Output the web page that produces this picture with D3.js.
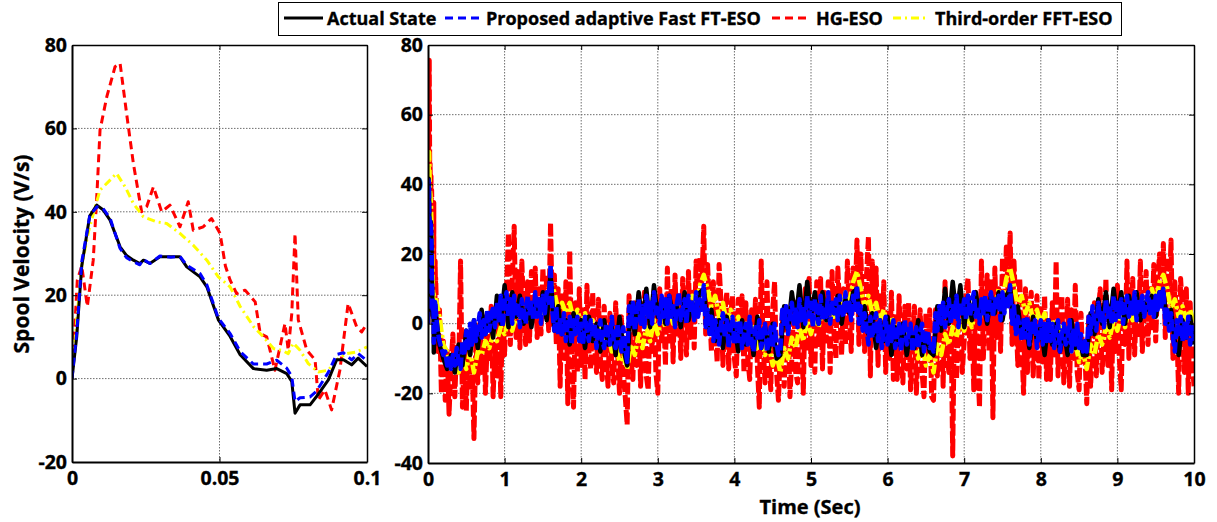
<!DOCTYPE html>
<html>
<head>
<meta charset="utf-8">
<script src="https://cdn.jsdelivr.net/npm/d3@7"></script>
<style>
  html, body { margin: 0; padding: 0; background: #fff; }
  svg { display: block; font-family: "Open Sans", Lato, sans-serif; font-weight: 700; }
  svg text { fill: #000; stroke: #000; stroke-width: 0.35px; }
</style>
</head>
<body>
<svg id="chart" width="1217" height="522"></svg>
<script>
// ---- Start-up transient, 0 to 0.1 s ----
const zoomTimeEst = [0, 0.0016, 0.0033, 0.006, 0.0084, 0.0105, 0.0129, 0.0163, 0.0185, 0.0208, 0.023, 0.0242, 0.0264, 0.0298, 0.0335, 0.0366, 0.0389, 0.0434, 0.0457, 0.0496, 0.0536, 0.057, 0.0615, 0.066, 0.0694, 0.0728, 0.0745, 0.0756, 0.0773, 0.0807, 0.0829, 0.0869, 0.0897, 0.092, 0.0948, 0.097, 0.1];
const zoomActual = [0, 10, 27, 39, 41.6, 40.5, 38, 31.6, 29.5, 28.4, 27.6, 28.4, 27.6, 29.2, 29.2, 29.2, 26.8, 24.4, 22, 14.1, 10.1, 5.7, 2.4, 2.0, 2.4, 1.2, -0.7, -8.3, -6.3, -6.3, -4.3, -0.3, 4.5, 4.5, 3.3, 4.9, 2.9];
const zoomProposed = [0, 11, 28, 39, 41.2, 40.8, 38.5, 31.2, 29, 28, 27.3, 28.6, 27.6, 29.4, 29.1, 29.3, 27.2, 25.2, 22.5, 14.5, 10.8, 6.5, 3.5, 3.5, 4.4, 2.5, 0.5, -5.5, -4.6, -4.4, -3, 1.5, 5.8, 6.2, 4.5, 6.0, 4.3];
const zoomTimeHG = [0, 0.0018, 0.0033, 0.0052, 0.0072, 0.0085, 0.0095, 0.0118, 0.0146, 0.0163, 0.0185, 0.0208, 0.0236, 0.0253, 0.0276, 0.0304, 0.0332, 0.0366, 0.0394, 0.0411, 0.0445, 0.0473, 0.0502, 0.052, 0.0536, 0.0558, 0.0587, 0.0621, 0.0638, 0.066, 0.0688, 0.0705, 0.0722, 0.0733, 0.0745, 0.0756, 0.0767, 0.0796, 0.0824, 0.0835, 0.0857, 0.088, 0.0908, 0.0936, 0.0965, 0.0982, 0.1];
const zoomHG = [0, 23.6, 27, 17.3, 28.4, 45, 59.6, 67.6, 74.8, 75.6, 63.6, 51.6, 40, 41.2, 46, 40, 41.6, 36.4, 42.4, 35.6, 36.4, 38.4, 34.8, 27, 23.6, 20.4, 21.2, 18.4, 10.8, 10, 2, 7.6, 13.2, 6.8, 15.6, 34.8, 14.1, 6.8, 4.5, -5.1, -2.7, -7.5, 2, 18, 12.4, 11.2, 13.2];
const zoomTimeThird = [0, 0.0016, 0.0033, 0.0055, 0.0078, 0.0095, 0.0129, 0.0151, 0.018, 0.0208, 0.0242, 0.0287, 0.0321, 0.0366, 0.0411, 0.0457, 0.0496, 0.0536, 0.057, 0.0615, 0.0649, 0.0683, 0.0711, 0.0733, 0.075, 0.0773, 0.0801, 0.0835, 0.0869, 0.0897, 0.0931, 0.0965, 0.1];
const zoomThird = [0, 14, 27, 35, 41, 45.2, 47.6, 49.2, 46, 42, 38.8, 37.6, 37.2, 34.8, 32, 28.4, 24.4, 22, 17.3, 12.5, 10, 7.2, 6.8, 6, 8.5, 6.8, 3.6, 1.6, 2, 4.5, 6, 6.4, 7.6];

// ---- Full 10 s run ----
// Actual state and third-order ESO: one sample every 0.05 s from 0.15 s to 10 s
const coarseStart = 0.15;
// Proposed ESO and HG-ESO: one sample every 0.025 s from 0.125 s to 10 s
const fineStart = 0.125;
const fullEnd = 10;

const fullActual = [
  -6, -10, -13, -9, -14, -6, -12, -2, -9, 1,
  -7, 4, -3, 3, -4, 8, 0, 11, -1, 9,
  2, 8, 0, 6, -1, 7, 3, 9, 1, 14,
  -2, 5, -3, 1, -6, 3, -2, 1, -7, 2,
  -5, 0, -8, 1, -6, -1, -9, 2, -7, -12,
  6, -3, 9, 0, 10, -1, 11, 2, 7, 0,
  8, 2, 5, -1, 9, 1, 6, 3, 9, 10,
  -1, 4, -5, 1, -7, 2, -3, 0, -8, 1,
  -6, 0, -9, 2, -7, -1, -8, 0, -10, -9,
  5, -2, 9, 1, 11, -1, 12, 2, 9, 0,
  9, 1, 6, 3, 8, 0, 7, 3, 9, 10,
  0, 5, -3, 3, -7, 1, -5, 2, -9, -1,
  -6, 0, -9, -2, -7, 1, -9, -3, -8, -9,
  5, -2, 10, 0, 12, 2, 11, -1, 8, 1,
  9, 2, 6, 0, 8, 3, 9, 1, 8, 10,
  0, 5, -4, 1, -7, 2, -5, -1, -9, 1,
  -6, 0, -8, -2, -9, 1, -7, -3, -9, -9,
  3, -3, 7, 0, 9, -1, 10, 2, 9, 0,
  8, 3, 9, 1, 6, 4, 8, 2, 9, 9,
  0, 4, -5, -9, 1, -4, 2, -6
];
const fullThird = [
  2, -6, -8, -13, -11, -14, -10, -13, -8, -14,
  -8, -9, -5, -7, -3, -5, -1, -3, 1, -2,
  2, 0, 4, 1, 5, 2, 6, 3, 8, 12,
  9, 4, 6, 3, 6, 1, 4, 0, 3, -1,
  1, -4, -1, -6, -3, -8, -6, -11, -9, -13,
  -6, -9, -3, -7, -1, -5, 1, -3, 2, -1,
  4, 0, 5, 1, 6, 3, 8, 5, 11, 14,
  10, 5, 8, 2, 6, 0, 4, -1, 2, -3,
  0, -5, -1, -7, -3, -9, -6, -12, -9, -14,
  -7, -10, -4, -7, -1, -5, 1, -3, 2, -1,
  4, 1, 5, 2, 7, 4, 9, 6, 12, 15,
  10, 5, 8, 3, 6, 1, 4, -1, 2, -3,
  0, -5, -2, -7, -4, -10, -6, -12, -9, -14,
  -6, -9, -3, -6, -1, -4, 1, -2, 2, -1,
  4, 1, 6, 2, 7, 4, 10, 7, 13, 16,
  11, 5, 8, 3, 6, 1, 4, 0, 3, -2,
  1, -4, -1, -6, -3, -8, -5, -11, -8, -13,
  -6, -9, -3, -6, -1, -4, 1, -2, 3, -1,
  4, 1, 6, 2, 7, 4, 10, 6, 12, 14,
  10, 4, 7, 2, 5, 1, 4, 0
];
const fullProposed = [
  -2, -5, -7, -9, -8, -12, -10, -13, -9, -12, -7, -11, -13, -5, -9, -2, -7, 0, -6, 1,
  -5, -1, 3, -4, 1, -3, 4, -2, 2, 5, -1, 6, 1, 8, -1, 6, 9, 2, 7, 0,
  8, 2, 6, -1, 7, 4, 0, 8, 3, 6, 1, 9, 2, 7, 0, 8, 3, 9, 6, 17,
  3, -2, 5, -3, 1, -4, 3, -5, 0, 2, -6, 1, -3, 2, -5, 0, -6, 2, -2, -5,
  1, -4, 0, -7, -2, 1, -5, -7, 0, -3, -6, 2, -5, -7, 0, -4, -8, -1, -7, -11,
  5, 0, 6, -2, 3, 7, 0, 5, -1, 8, 2, 6, 0, 9, 3, 5, 0, 8, 2, 7,
  0, 8, 2, 5, -1, 6, 9, 1, 4, 7, 0, 8, 3, 6, 1, 9, 2, 7, 4, 11,
  -1, 4, -3, 2, -5, 1, -2, -6, 0, 3, -4, 1, -7, -2, 2, -6, 0, -5, 1, -7,
  -3, 0, -6, 2, -5, -8, -1, -4, 1, -7, -3, 0, -8, -5, -1, -7, 0, -6, -9, -8,
  4, -1, 5, -3, 2, 6, 0, 4, -1, 7, 1, 5, 0, 8, 2, 6, -1, 7, 3, 0,
  8, 1, 5, 2, 9, 0, 6, 3, 7, 1, 8, 4, 2, 9, 3, 6, 1, 8, 4, 11,
  0, 5, -2, 3, -1, -6, 2, -4, 0, 3, -5, 1, -7, -2, 2, -6, 0, -5, 1, -7,
  -4, 0, -8, -2, 1, -6, -3, 0, -8, -5, -1, -7, -3, 0, -8, -4, -2, -7, -6, -8,
  3, -2, 5, 0, 6, -1, 4, 7, 0, 5, 2, 8, -1, 6, 3, 7, 1, 8, 2, 6,
  9, 2, 5, 0, 7, 3, 8, 1, 6, 9, 2, 7, 4, 8, 1, 9, 3, 7, 5, 11,
  0, 5, -3, 2, -1, -5, 1, -4, 2, -6, 0, -3, 1, -7, -2, 1, -6, 0, -5, 1,
  -5, 0, -7, -2, 1, -8, -3, 0, -6, -4, 1, -8, -2, -6, 0, -7, -3, -8, -5, -8,
  2, -3, 5, 0, -2, 6, 1, 4, -1, 7, 2, 5, 0, 8, 1, 6, 2, 7, 0, 6,
  8, 2, 6, 3, 9, 1, 7, 4, 8, 2, 6, 9, 3, 7, 2, 8, 4, 9, 5, 10,
  0, 4, -2, 3, -4, -8, 1, -3, 2, -5, 0, -4, 2, -6, -1, -5
];
const fullHG = [
  -8, 4, -20, -5, -22, -8, -26, -12, -3, -21, -6, -15, 18, -24, -8, -25, -3, -19, -10, -33,
  -5, -17, 0, -14, 2, -20, -4, -11, 5, -21, -6, -15, 3, -21, 6, -9, 10, 26, -6, 12,
  28, -4, 15, -7, 18, 2, -6, 12, -5, 15, 0, 16, -4, 10, -3, 16, 2, 14, -2, 29,
  -1, 14, -6, 10, -18, 8, -10, 12, -23, 21, -8, -24, 6, -14, 10, -12, 4, -16, 11, -8,
  -13, 9, -6, -14, 7, -10, -16, 5, -9, -18, 3, -12, -17, 6, -8, -20, 2, -14, -21, -29,
  8, -10, -16, 6, -12, 8, -18, -4, 9, -15, -19, 5, -8, 9, -14, -20, 10, -6, 4, -12,
  16, -5, 10, -11, 14, -3, 8, -10, 13, -2, -9, 15, -4, 9, -7, 18, 2, 19, 12, 28,
  -3, 17, 4, -8, 12, -2, -11, 17, 6, -12, 3, 9, -13, 2, 8, -10, -15, 7, -4, 8,
  -14, 6, -10, -16, 4, -8, 7, -12, -24, 18, -6, -17, 12, -9, -19, 4, 12, -14, -22, -8,
  3, -18, -6, 4, -21, -10, 7, -14, -17, 8, 0, -20, 10, -8, 13, -12, 6, -14, 12, -6,
  13, -13, 9, -5, 12, -14, 15, -3, -10, 16, 4, -9, 10, -6, 18, 3, -8, 16, 6, 24,
  -6, 20, 4, -8, 14, 25, -15, 18, -4, 16, -12, 8, -6, 12, -14, 3, -10, 9, -16, 2,
  -16, 8, -10, -17, 5, -13, 6, -19, -8, 5, -20, -6, 4, -14, -21, 3, -10, 4, -21, -22,
  4, -15, -6, 5, -18, 12, -8, -14, 6, -38, 8, -16, 2, 10, -14, -5, 9, 13, -10, 4,
  -19, 9, -12, -24, 18, -10, 6, 14, -8, 12, -27, 16, -4, 10, -8, 19, 6, 22, 8, 26,
  -6, 18, 3, -12, 13, -5, -20, 10, -14, 4, 9, -15, -3, 8, -16, 5, -11, 8, -16, -2,
  -16, 6, -9, 18, -15, 2, 8, -17, -6, 7, -18, 4, -10, 11, -14, -19, 3, -12, -8, -23,
  2, -18, -6, 6, -15, 3, 10, -14, -4, 13, -12, 5, -19, 9, -8, 11, -10, -19, 6, -6,
  18, -10, 5, 13, -9, 8, -4, 18, -8, 3, 15, -6, 10, -2, 17, -5, 12, 20, 4, 23,
  -4, 19, 6, 24, -10, 12, -2, -20, 13, 4, -14, 10, -20, 6, -10, -18
];

// ---- Axis ticks ----
const zoomXTicks = [0, 0.05, 0.1];
const zoomYTicks = [-20, 0, 20, 40, 60, 80];
const fullXTicks = [0, 1, 2, 3, 4, 5, 6, 7, 8, 9, 10];
const fullYTicks = [-40, -20, 0, 20, 40, 60, 80];

const legendLabels = ["Actual State", "Proposed adaptive Fast FT-ESO", "HG-ESO", "Third-order FFT-ESO"];

// ---- Styles per estimator ----
const styles = {
  actual:   { color: "#000000", dash: null,      wideDash: null,       wideWidth: 4.5 },
  proposed: { color: "#0000ff", dash: "8,5",     wideDash: "12,3",     wideWidth: 4.5 },
  hg:       { color: "#ff0000", dash: "8,5",     wideDash: "12,3",     wideWidth: 5 },
  third:    { color: "#ffff00", dash: "8,4,2,4", wideDash: "12,3,3,3", wideWidth: 4.5 }
};

const svg = d3.select("#chart");

function zipSeries(times, values) {
  return d3.zip(times, values);
}
function fullSeries(zoomTimes, zoomValues, values, start) {
  const tScale = d3.scaleLinear().domain([0, values.length - 1]).range([start, fullEnd]);
  return zipSeries(zoomTimes, zoomValues).concat(values.map((v, i) => [tScale(i), v]));
}
const plainNumber = d => String(d);

function drawPanel(opt) {
  const { id, x, y, xTicks, yTicks, data, wide } = opt;
  const [x0, x1] = x.range();
  const [y1, y0] = y.range();
  const g = svg.append("g");

  svg.append("clipPath").attr("id", id)
    .append("rect").attr("x", x0).attr("y", y0).attr("width", x1 - x0).attr("height", y1 - y0);

  // dotted grid
  const grid = g.append("g").attr("stroke", "#6e6e6e").attr("stroke-width", 1).attr("stroke-dasharray", "1.5,1.5");
  grid.selectAll("line.gx").data(xTicks.filter(t => t > x.domain()[0] && t < x.domain()[1]))
    .join("line").attr("class", "gx").attr("x1", d => x(d)).attr("x2", d => x(d)).attr("y1", y0).attr("y2", y1);
  grid.selectAll("line.gy").data(yTicks.filter(t => t > y.domain()[0] && t < y.domain()[1]))
    .join("line").attr("class", "gy").attr("x1", x0).attr("x2", x1).attr("y1", d => y(d)).attr("y2", d => y(d));

  // estimator curves: HG, third-order, actual, proposed on top
  const line = d3.line().x(d => x(d[0])).y(d => y(d[1]));
  const curves = g.append("g").attr("clip-path", `url(#${id})`);
  ["hg", "third", "actual", "proposed"].forEach(k => {
    curves.append("path")
      .attr("d", line(data[k]))
      .attr("fill", "none")
      .attr("stroke", styles[k].color)
      .attr("stroke-width", wide ? styles[k].wideWidth : 3)
      .attr("stroke-linejoin", "round")
      .attr("stroke-dasharray", wide ? styles[k].wideDash : styles[k].dash);
  });

  // axes, ticks pointing inward on all four sides
  const fontSize = 19.5;
  const bottom = g.append("g").attr("transform", `translate(0,${y1})`)
    .call(d3.axisBottom(x).tickValues(xTicks).tickFormat(plainNumber).tickSizeInner(-5).tickSizeOuter(0).tickPadding(9));
  const left = g.append("g").attr("transform", `translate(${x0},0)`)
    .call(d3.axisLeft(y).tickValues(yTicks).tickFormat(plainNumber).tickSizeInner(-5).tickSizeOuter(0).tickPadding(5));
  const top = g.append("g").attr("transform", `translate(0,${y0})`)
    .call(d3.axisTop(x).tickValues(xTicks).tickFormat("").tickSizeInner(-5).tickSizeOuter(0));
  const right = g.append("g").attr("transform", `translate(${x1},0)`)
    .call(d3.axisRight(y).tickValues(yTicks).tickFormat("").tickSizeInner(-5).tickSizeOuter(0));
  [bottom, left, top, right].forEach(a => {
    a.attr("font-family", null).attr("font-size", fontSize);
    a.selectAll("line").attr("stroke", "#000").attr("stroke-width", 1);
    a.select(".domain").attr("stroke", "#000").attr("stroke-width", 1.5);
  });
  bottom.select(".domain").attr("stroke-width", 2);
  left.select(".domain").attr("stroke-width", 2);
}

// Left: close-up of the first 0.1 s
const xZoom = d3.scaleLinear().domain([0, 0.1]).range([72, 367]);
const yZoom = d3.scaleLinear().domain([-20, 80]).range([462, 45]);
drawPanel({
  id: "clip-zoom", x: xZoom, y: yZoom, xTicks: zoomXTicks, yTicks: zoomYTicks, wide: false,
  data: {
    actual: zipSeries(zoomTimeEst, zoomActual),
    proposed: zipSeries(zoomTimeEst, zoomProposed),
    hg: zipSeries(zoomTimeHG, zoomHG),
    third: zipSeries(zoomTimeThird, zoomThird)
  }
});

// Right: the whole 10 s run
const xFull = d3.scaleLinear().domain([0, 10]).range([428, 1194]);
const yFull = d3.scaleLinear().domain([-40, 80]).range([463, 45]);
drawPanel({
  id: "clip-full", x: xFull, y: yFull, xTicks: fullXTicks, yTicks: fullYTicks, wide: true,
  data: {
    actual: fullSeries(zoomTimeEst, zoomActual, fullActual, coarseStart),
    proposed: fullSeries(zoomTimeEst, zoomProposed, fullProposed, fineStart),
    hg: fullSeries(zoomTimeHG, zoomHG, fullHG, fineStart),
    third: fullSeries(zoomTimeThird, zoomThird, fullThird, coarseStart)
  }
});

// Axis titles
svg.append("text")
  .attr("transform", "translate(22,254) rotate(-90)")
  .attr("text-anchor", "middle").attr("dy", "0.35em")
  .attr("font-size", 21)
  .text("Spool Velocity (V/s)");
svg.append("text")
  .attr("x", 810).attr("y", 514)
  .attr("text-anchor", "middle")
  .attr("font-size", 20)
  .text("Time (Sec)");

// Legend
const legend = svg.append("g");
legend.append("rect").attr("x", 278.5).attr("y", 2.5).attr("width", 843).attr("height", 33)
  .attr("fill", "#fff").attr("stroke", "#000").attr("stroke-width", 1);
const legendKeys = ["actual", "proposed", "hg", "third"];
const legendLineX = [[284, 323], [445, 481], [772, 810], [893, 926]];
const legendTextX = [327, 486, 816, 935];
legendKeys.forEach((k, i) => {
  legend.append("line")
    .attr("x1", legendLineX[i][0]).attr("x2", legendLineX[i][1])
    .attr("y1", 18).attr("y2", 18)
    .attr("stroke", styles[k].color).attr("stroke-width", 3)
    .attr("stroke-dasharray", styles[k].dash);
  legend.append("text")
    .attr("x", legendTextX[i]).attr("y", 25)
    .attr("font-size", 18)
    .text(legendLabels[i]);
});
</script>
</body>
</html>
